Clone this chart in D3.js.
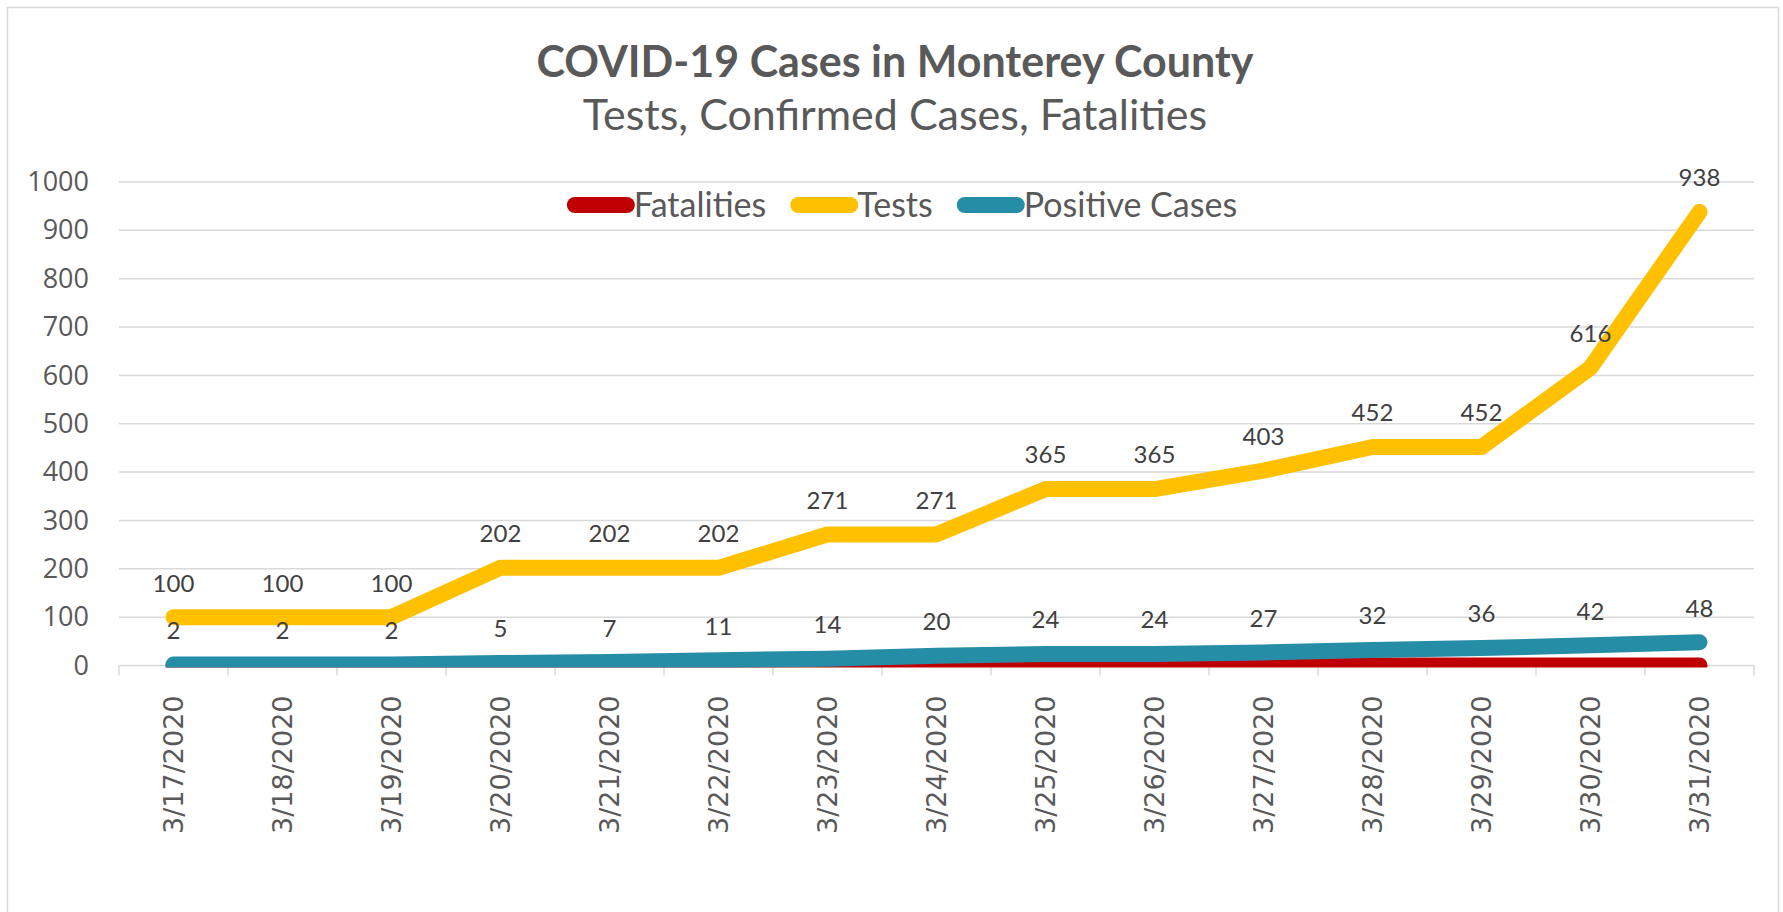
<!DOCTYPE html>
<html>
<head>
<meta charset="utf-8">
<script src="https://cdn.jsdelivr.net/npm/d3@7"></script>
<style>
  body { margin: 0; background: #fff; }
  .axis-label { fill: #595959; }
  .data-label { fill: #404040; font-family: Lato, sans-serif; font-size: 24px; text-anchor: middle; }
</style>
</head>
<body>
<div id="chart"></div>
<script>
// chart data
const dates = ['3/17/2020', '3/18/2020', '3/19/2020', '3/20/2020', '3/21/2020', '3/22/2020', '3/23/2020',
    '3/24/2020', '3/25/2020', '3/26/2020', '3/27/2020', '3/28/2020', '3/29/2020', '3/30/2020', '3/31/2020'];
const fatalities = [0, 0, 0, 0, 0, 0, 0, 0, 0, 0, 0, 0, 0, 0, 0];
const tests = [100, 100, 100, 202, 202, 202, 271, 271, 365, 365, 403, 452, 452, 616, 938];
const positiveCases = [2, 2, 2, 5, 7, 11, 14, 20, 24, 24, 27, 32, 36, 42, 48];
const yTicks = [0, 100, 200, 300, 400, 500, 600, 700, 800, 900, 1000];

const seriesNames = ['Fatalities', 'Tests', 'Positive Cases'];
const seriesValues = [fatalities, tests, positiveCases];
const seriesColors = ['#c00000', '#ffc000', '#258ea6'];
const seriesLabelled = [false, true, true];

class LineChart {
    constructor(_config, _data) {
        this.config = {
            parentElement: _config.parentElement,
            containerWidth: _config.containerWidth || 1783,
            containerHeight: _config.containerHeight || 912,
            margin: _config.margin || { top: 182, right: 29, bottom: 246.5, left: 119 }
        };
        this.data = _data;
        this.initVis();
    }

    initVis() {
        let vis = this;

        vis.width = vis.config.containerWidth - vis.config.margin.left - vis.config.margin.right;
        vis.height = vis.config.containerHeight - vis.config.margin.top - vis.config.margin.bottom;

        vis.svg = d3.select(vis.config.parentElement)
            .append('svg')
            .attr('width', vis.config.containerWidth)
            .attr('height', vis.config.containerHeight);

        // outer chart border
        vis.svg.append('rect')
            .attr('x', 7.5)
            .attr('y', 7.5)
            .attr('width', vis.config.containerWidth - 12)
            .attr('height', vis.config.containerHeight)
            .attr('fill', 'none')
            .attr('stroke', '#d9d9d9')
            .attr('stroke-width', 1.5);

        vis.chart = vis.svg.append('g')
            .attr('transform', `translate(${vis.config.margin.left}, ${vis.config.margin.top})`);

        vis.xScale = d3.scaleBand()
            .range([0, vis.width]);

        vis.yScale = d3.scaleLinear()
            .range([vis.height, 0]);

        vis.gridG = vis.chart.append('g').attr('class', 'grid');
        vis.yAxisG = vis.chart.append('g').attr('class', 'axis y-axis');
        vis.xAxisG = vis.chart.append('g')
            .attr('class', 'axis x-axis')
            .attr('transform', `translate(0,${vis.height})`);

        // lines get clipped at the bottom of the plot area
        vis.chart.append('clipPath')
            .attr('id', 'plot-clip')
            .append('rect')
            .attr('x', -10)
            .attr('y', -40)
            .attr('width', vis.width + 20)
            .attr('height', vis.height + 42);

        vis.linesG = vis.chart.append('g').attr('clip-path', 'url(#plot-clip)');
        vis.labelsG = vis.chart.append('g');

        // titles
        vis.svg.append('text')
            .attr('x', 895)
            .attr('y', 62)
            .attr('dy', '0.35em')
            .style('text-anchor', 'middle')
            .style('font-family', 'Lato, sans-serif')
            .style('font-weight', 'bold')
            .style('font-size', '43px')
            .style('fill', '#595959')
            .text('COVID-19 Cases in Monterey County');

        vis.svg.append('text')
            .attr('x', 895)
            .attr('y', 115)
            .attr('dy', '0.35em')
            .style('text-anchor', 'middle')
            .style('font-family', 'Lato, sans-serif')
            .style('font-size', '43px')
            .style('fill', '#595959')
            .text('Tests, Confirmed Cases, Fatalities');

        vis.legendG = vis.svg.append('g')
            .attr('transform', 'translate(0,205)');
    }

    updateVis() {
        let vis = this;

        vis.xScale.domain(dates);
        vis.yScale.domain([0, 1000]);

        vis.xCenter = i => vis.xScale(dates[i]) + vis.xScale.bandwidth() / 2;

        vis.line = d3.line()
            .x((d, i) => vis.xCenter(i))
            .y(d => vis.yScale(d));

        vis.renderVis();
    }

    renderVis() {
        let vis = this;

        // horizontal gridlines
        vis.gridG.selectAll('line')
            .data(yTicks.filter(d => d > 0))
            .join('line')
            .attr('x1', 0)
            .attr('x2', vis.width)
            .attr('y1', d => vis.yScale(d))
            .attr('y2', d => vis.yScale(d))
            .attr('stroke', '#d9d9d9')
            .attr('stroke-width', 1.5);

        // y axis labels
        vis.yAxisG.call(d3.axisLeft(vis.yScale).tickValues(yTicks).tickFormat(d3.format('d')).tickSize(0).tickPadding(30))
            .call(g => g.select('.domain').remove())
            .selectAll('text')
            .attr('class', 'axis-label')
            .style('font-family', '"Open Sans", sans-serif')
            .style('font-size', '27px');

        // x axis: category axis with tick marks between categories
        vis.xAxisG.call(d3.axisBottom(vis.xScale).tickSize(0).tickPadding(0))
            .call(g => g.select('.domain')
                .attr('d', `M0,0H${vis.width}`)
                .attr('stroke', '#d9d9d9')
                .attr('stroke-width', 1.5));

        vis.xAxisG.attr('font-family', '"DejaVu Sans", Verdana, sans-serif');
        vis.xAxisG.selectAll('text')
            .attr('class', 'axis-label')
            .attr('transform', 'translate(0,30) rotate(-90)')
            .attr('x', 0)
            .attr('y', 0)
            .attr('dy', '0.36em')
            .style('text-anchor', 'end')
            .style('font-family', '"DejaVu Sans", Verdana, sans-serif')
            .style('font-size', '27px');

        const boundaries = dates.map(d => vis.xScale(d)).concat([vis.width]);
        vis.xAxisG.selectAll('.boundary')
            .data(boundaries)
            .join('line')
            .attr('class', 'boundary')
            .attr('x1', d => d)
            .attr('x2', d => d)
            .attr('y1', 0)
            .attr('y2', 10)
            .attr('stroke', '#d9d9d9')
            .attr('stroke-width', 1.5);

        // series lines
        vis.linesG.selectAll('.series')
            .data(vis.data)
            .join('path')
            .attr('class', 'series')
            .attr('d', d => vis.line(d.values))
            .attr('fill', 'none')
            .attr('stroke', d => d.color)
            .attr('stroke-width', 16)
            .attr('stroke-linecap', 'round')
            .attr('stroke-linejoin', 'round');

        // data labels above points
        const labelData = vis.data.filter(d => d.labelled)
            .flatMap(d => d.values.map((v, i) => ({ v, i })));
        vis.labelsG.selectAll('text')
            .data(labelData)
            .join('text')
            .attr('class', 'data-label')
            .attr('x', d => vis.xCenter(d.i))
            .attr('y', d => vis.yScale(d.v) - 34)
            .attr('dy', '0.35em')
            .text(d => d.v);

        // legend
        const items = vis.legendG.selectAll('g')
            .data(vis.data)
            .join('g');
        items.append('line')
            .attr('x1', 8).attr('x2', 60)
            .attr('y1', 0).attr('y2', 0)
            .attr('stroke', d => d.color)
            .attr('stroke-width', 16)
            .attr('stroke-linecap', 'round');
        items.append('text')
            .attr('x', 67)
            .attr('dy', '0.35em')
            .style('font-family', 'Lato, sans-serif')
            .style('font-size', '34px')
            .style('fill', '#595959')
            .text(d => d.name);

        const widths = items.nodes().map(n => 67 + n.querySelector('text').getComputedTextLength());
        const gap = 24;
        const total = d3.sum(widths) + gap * (widths.length - 1);
        let x = 902 - total / 2;
        items.attr('transform', (d, i) => {
            const t = `translate(${x},0)`;
            x += widths[i] + gap;
            return t;
        });
    }
}

const chartData = seriesNames.map((name, i) => ({
    name,
    values: seriesValues[i],
    color: seriesColors[i],
    labelled: seriesLabelled[i]
}));

const chart = new LineChart({ parentElement: '#chart' }, chartData);
chart.updateVis();
</script>
</body>
</html>
